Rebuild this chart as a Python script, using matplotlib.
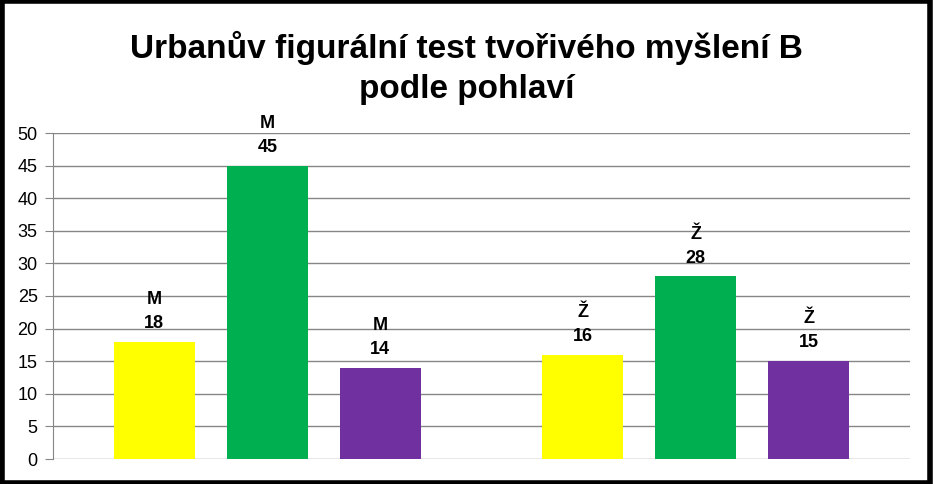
import matplotlib.pyplot as plt
import numpy as np

# data
groups = ['M', 'Ž']
series_colors = ['#FFFF00', '#00B050', '#7030A0']
values = [[18, 16], [45, 28], [14, 15]]   # per series: (M, Ž)
yticks = [0, 5, 10, 15, 20, 25, 30, 35, 40, 45, 50]

plt.rcParams['font.family'] = ['Liberation Sans', 'DejaVu Sans']

fig = plt.figure(figsize=(9.33, 4.84), dpi=100)
ax = fig.add_axes([53 / 933, 1 - 459 / 484, 857 / 933, 326 / 484])

x = np.arange(len(groups))
width = 0.189
step = 0.264
for i, vals in enumerate(values):
    xs = x + (i - 1) * step
    ax.bar(xs, vals, width=width, color=series_colors[i], zorder=3)
    for xx, v, g in zip(xs, vals, groups):
        ax.annotate(g + '\n' + str(v), (xx, v), xytext=(0, 7),
                    textcoords='offset points', ha='center', va='bottom',
                    fontsize=13, fontweight='bold', linespacing=1.55)

ax.set_xlim(-0.5, 1.5)
ax.set_ylim(0, 50)
ax.set_yticks(yticks)
ax.set_xticks([])
ax.tick_params(axis='y', labelsize=13, length=6, color='#868686', pad=5)
ax.grid(axis='y', color='#868686', linewidth=1, zorder=0)
for s in ['top', 'right', 'bottom']:
    ax.spines[s].set_visible(False)
ax.spines['left'].set_color('#868686')

fig.text(0.5, 0.86, 'Urbanův figurální test tvořivého myšlení B\npodle pohlaví',
         ha='center', va='center', fontsize=24, fontweight='bold', linespacing=1.38)

# black frame around the whole chart
fig.patches.append(plt.Rectangle((0.002, 0.003), 0.995, 0.994, transform=fig.transFigure,
                                 fill=False, edgecolor='black', linewidth=4))

fig.savefig('out.png', dpi=100)
